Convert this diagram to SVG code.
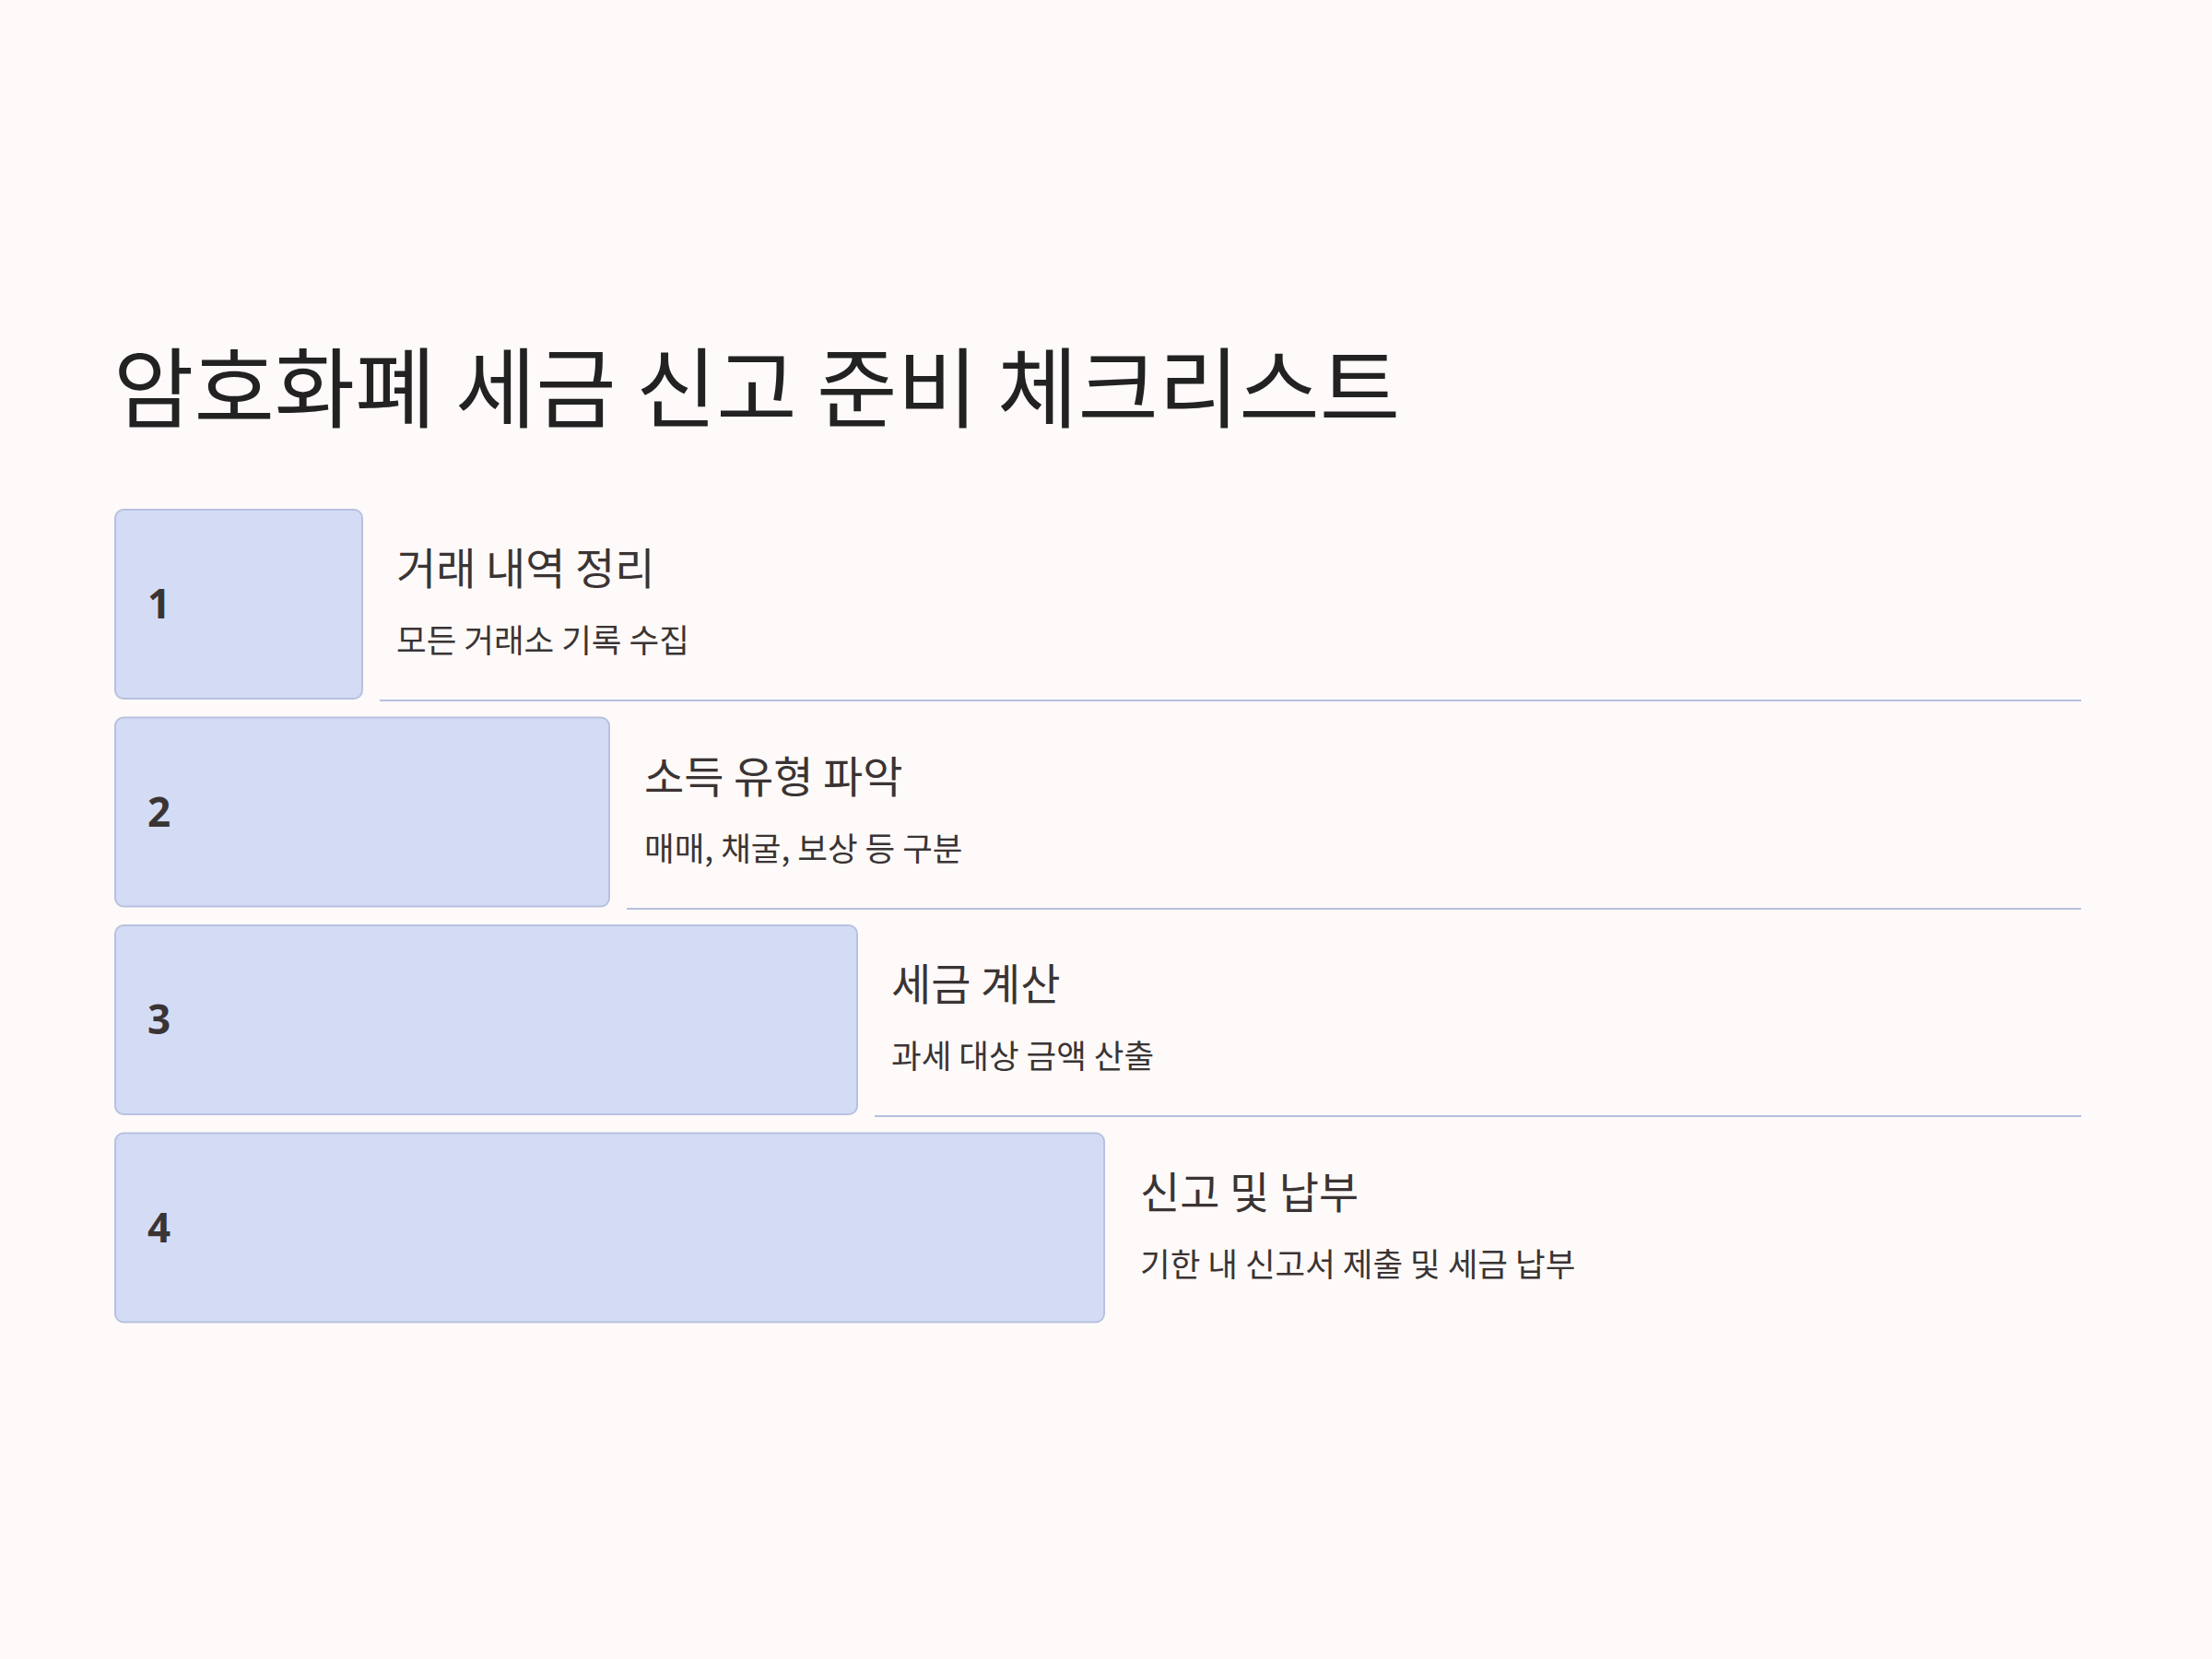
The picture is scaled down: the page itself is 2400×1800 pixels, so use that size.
<svg xmlns="http://www.w3.org/2000/svg" width="2400" height="1800" viewBox="0 0 2400 1800">
<style>
.bg{fill:#FEFAF9}
.box{fill:#D4DCF5;stroke:#B7C1E0;stroke-width:2}
.ln{stroke:#B7C0DE;stroke-width:2}
.title{font-family:"Noto Sans CJK KR","Noto Sans",sans-serif;font-size:95px;fill:#222222}
.num{font-family:"Noto Sans","Liberation Sans",sans-serif;font-weight:700;font-size:44px;fill:#3A3434}
.head{font-family:"Noto Sans CJK KR","Noto Sans",sans-serif;font-size:47px;fill:#3A3434}
.sub{font-family:"Noto Sans CJK KR","Noto Sans",sans-serif;font-size:35.5px;fill:#3A3434}
</style>
<rect class="bg" x="0" y="0" width="2400" height="1800"/>
<text class="title" x="123" y="457">암호화폐 세금 신고 준비 체크리스트</text>
<g id="connectors">
<line class="ln" x1="412" y1="760" x2="2258" y2="760"/>
<line class="ln" x1="680" y1="986" x2="2258" y2="986"/>
<line class="ln" x1="949" y1="1211" x2="2258" y2="1211"/>
</g>
<g id="step1">
<rect class="box" x="125" y="553" width="268" height="205" rx="9"/>
<text class="num" x="160" y="671">1</text>
<text class="head" x="430" y="634">거래 내역 정리</text>
<text class="sub" x="430" y="708">모든 거래소 기록 수집</text>
</g>
<g id="step2">
<rect class="box" x="125" y="778.5" width="536" height="205" rx="9"/>
<text class="num" x="160" y="896.5">2</text>
<text class="head" x="699" y="859.5">소득 유형 파악</text>
<text class="sub" x="699" y="933.5">매매, 채굴, 보상 등 구분</text>
</g>
<g id="step3">
<rect class="box" x="125" y="1004" width="805" height="205" rx="9"/>
<text class="num" x="160" y="1122">3</text>
<text class="head" x="967" y="1085">세금 계산</text>
<text class="sub" x="967" y="1159">과세 대상 금액 산출</text>
</g>
<g id="step4">
<rect class="box" x="125" y="1229.5" width="1073" height="205" rx="9"/>
<text class="num" x="160" y="1347.5">4</text>
<text class="head" x="1237" y="1310.5">신고 및 납부</text>
<text class="sub" x="1237" y="1384.5">기한 내 신고서 제출 및 세금 납부</text>
</g>
</svg>
